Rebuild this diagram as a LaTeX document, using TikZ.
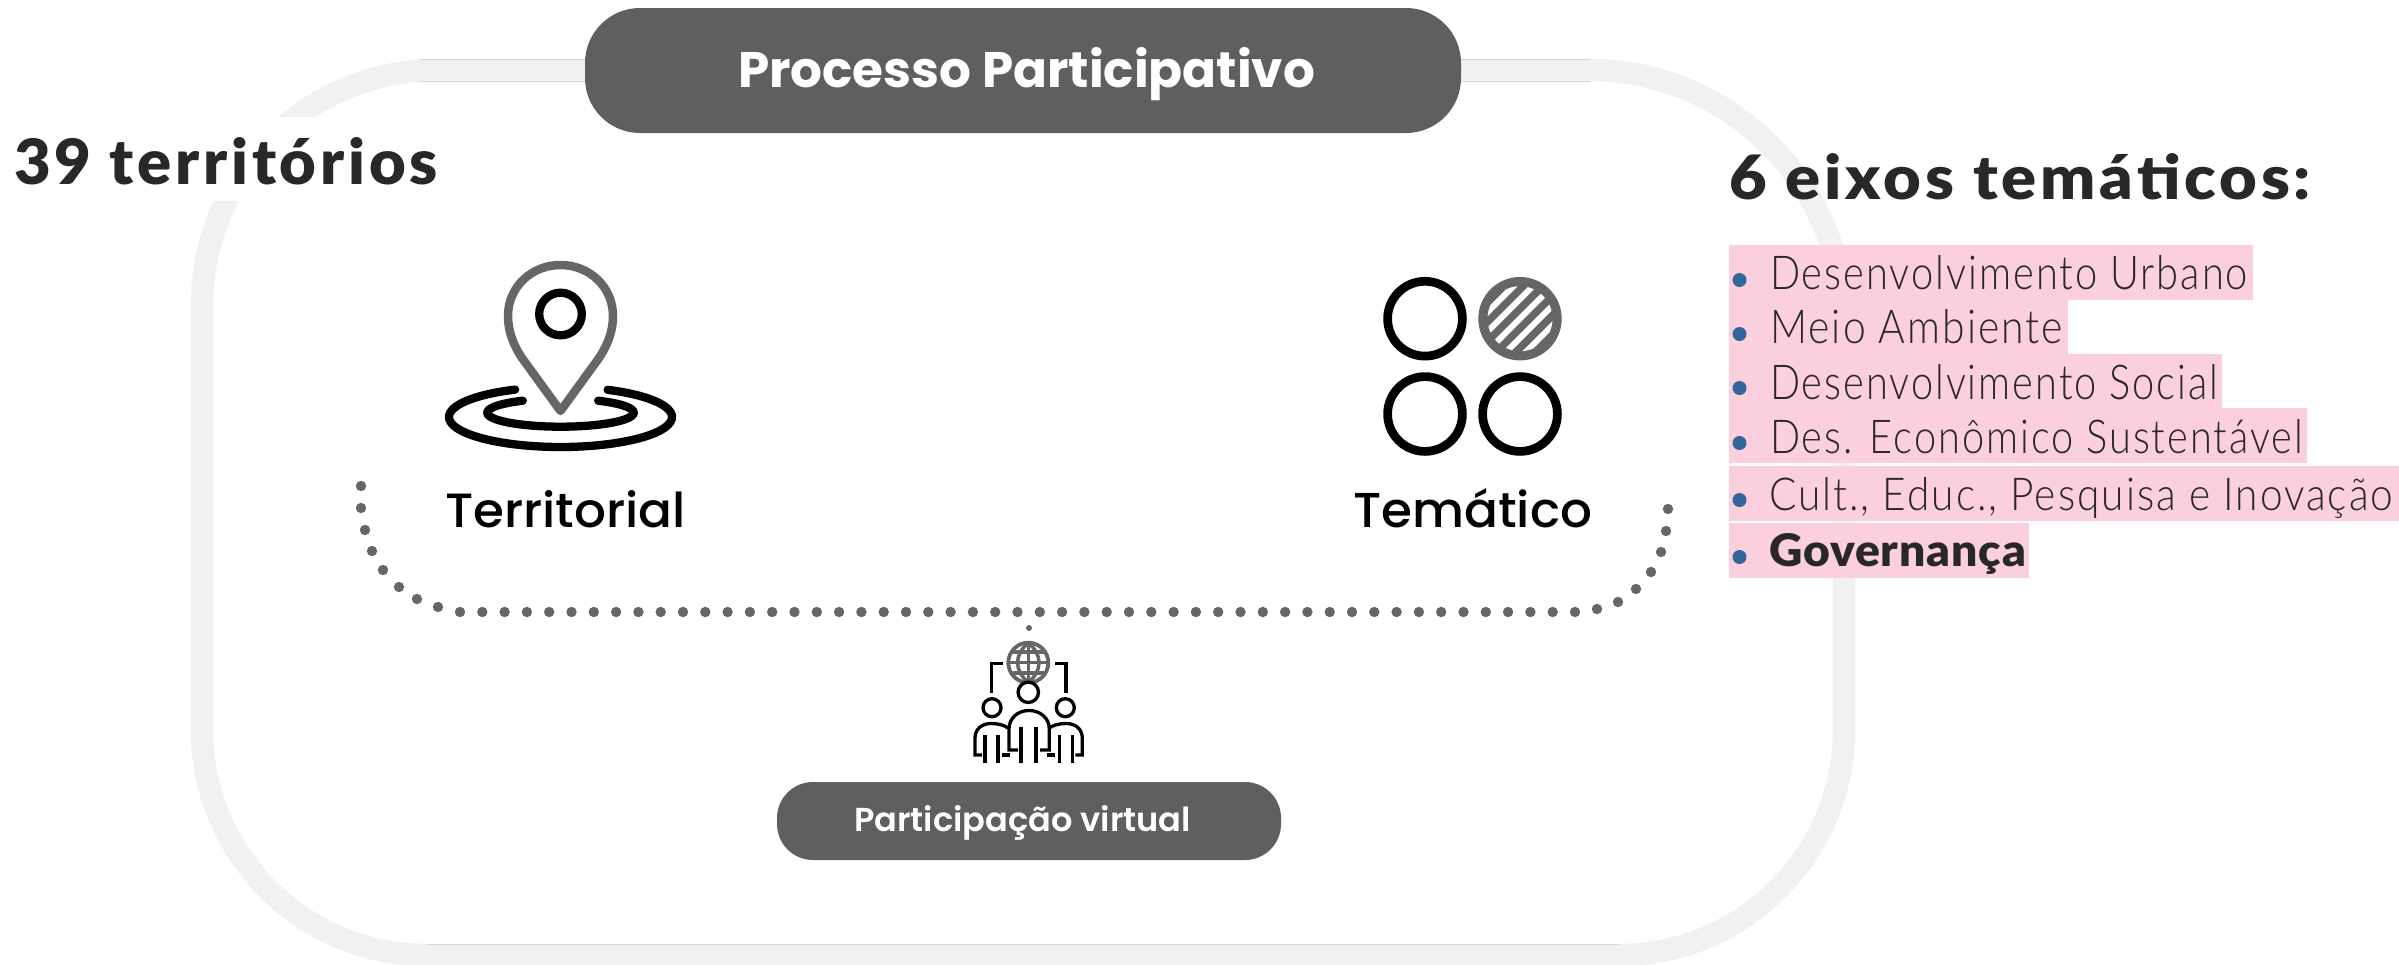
\documentclass[tikz,border=0pt]{standalone}
\usepackage{graphicx}
\usepackage{fontspec}
\setmainfont{Poppins}
\newfontfamily\popB{Poppins}[UprightFont=* Bold]
\newfontfamily\popS{Poppins}[UprightFont=* SemiBold]
\newfontfamily\popM{Poppins}[UprightFont=* Medium]
\newfontfamily\titlefont{Lato}[UprightFont=* Black,LetterSpace=6]
\newfontfamily\thinfont{Lato}[UprightFont=* Light,LetterSpace=5]
\newfontfamily\boldfont{Lato}[UprightFont=* Black,LetterSpace=2]
\definecolor{pillgray}{HTML}{5F5F5F}
\definecolor{icongray}{HTML}{666666}
\definecolor{framegray}{HTML}{F1F1F1}
\definecolor{edgegray}{HTML}{D6D6D6}
\definecolor{inkdark}{HTML}{282828}
\definecolor{rowpink}{HTML}{FBCFDD}
\definecolor{bulletblue}{HTML}{336699}
\newcommand{\fitbox}[3]{\resizebox{#1pt}{#2pt}{#3}}
\tikzset{
  txt/.style={anchor=base west,inner sep=0pt,outer sep=0pt},
  pill/.style={fill=pillgray,draw=none},
  iconblack/.style={draw=black,line width=8.3pt,line cap=round,line join=round},
  icongraystroke/.style={draw=icongray,line width=8.5pt,line cap=round,line join=round},
  person/.style={draw=black,line width=3.3pt,line cap=butt,line join=miter},
  globeline/.style={draw=icongray,line width=3.5pt},
  dotmark/.style={fill=icongray,draw=none},
  rowbg/.style={fill=rowpink,draw=none},
  bulletdot/.style={fill=bulletblue,draw=none},
}
\begin{document}
\begin{tikzpicture}[x=1pt,y=-1pt]
\useasboundingbox (0,0) rectangle (2399,964);
\clip (0,0) rectangle (2399,964);
% frame
\draw[framegray,line width=22.5pt] (437,70) -- (1589,70)
  .. controls (1729.8,70) and (1844,184.2) .. (1844,325) -- (1844,730)
  .. controls (1844,854.3) and (1743.3,955) .. (1619,955) -- (427,955)
  .. controls (302.7,955) and (202,854.3) .. (202,730) -- (202,305)
  .. controls (202,175.2) and (307.2,70) .. (437,70) -- cycle;
\draw[edgegray,line width=1pt] (420,59) -- (1590,59) (420,81) -- (1590,81) (427,944) -- (1619,944);
% white patch behind the left title
\fill[white] (0,117) rectangle (450,201);
% header
\fill[pill] (585,8) [rounded corners=55pt] rectangle (1461,133);
\node[txt,text=white] (head) at (738,87) {\fitbox{577}{40}{\popB Processo Participativo}};
\node[txt,text=inkdark] (terr39) at (14,184) {\fitbox{424}{47}{\titlefont 39 territórios}};
% pin icon
\draw[icongraystroke] (560.5,411) -- (522,358) .. controls (514,346) and (508,332) .. (508,316)
  .. controls (508,287) and (531.5,265) .. (560.5,265)
  .. controls (589.5,265) and (613,287) .. (613,316)
  .. controls (613,332) and (607,346) .. (599,358) -- cycle;
\draw[iconblack] (560.5,314) circle[radius=21.3pt];
\draw[iconblack] plot[domain=-65:246,samples=90,smooth] ({560.5+111.5*cos(\x)},{417+30*sin(\x)});
\draw[iconblack] plot[domain=-59:239,samples=90,smooth] ({560.5+73.2*cos(\x)},{412.7+14*sin(\x)});
\node[txt,text=black] (terr) at (445,527) {\fitbox{241}{37}{\popM Territorial}};
% thematic icon
\draw[iconblack,line width=8.7pt] (1425,318.7) circle[radius=37.4pt];
\draw[iconblack,line width=8.7pt] (1425,414) circle[radius=37.4pt];
\draw[iconblack,line width=8.7pt] (1520,414) circle[radius=37.4pt];
\fill[icongray] (1520,318.7) circle[radius=41.7pt];
\begin{scope}
  \clip (1520,318.7) circle[radius=32.5pt];
  \foreach \o in {-27.6,-13.8,0,13.8,27.6}
    \draw[white,line width=6pt] ({1520+0.7071*\o-50},{318.7+0.7071*\o+50}) -- ({1520+0.7071*\o+50},{318.7+0.7071*\o-50});
\end{scope}
\node[txt,text=black] (tema) at (1353,527) {\fitbox{239}{39}{\popM Temático}};
% dotted connector
\foreach \px/\py in {361/486,361/508,365/530,372/551,383/570,399/587,417/599,438/607,
  1668/509,1666/531,1661/552,1651/572,1636/589,1618/602,1597/609}
  \fill[dotmark] (\px,\py) circle[radius=5.2pt];
\foreach \i in {0,...,50}
  \fill[dotmark] ({460+22.3*\i},612) circle[radius=5.2pt];
\fill[dotmark] (1029,628) circle[radius=3pt];
% network icon
\draw[globeline,line width=3.8pt] (1028.3,662.7) circle[radius=20pt];
\draw[globeline] (1028.3,642.7) .. controls (1014,655) and (1014,670) .. (1028.3,682.7)
  .. controls (1042.6,670) and (1042.6,655) .. (1028.3,642.7);
\draw[globeline] (1028.3,643) -- (1028.3,682) (1009,662.7) -- (1048,662.7)
  (1013,652) -- (1044,652) (1013,673) -- (1044,673);
\draw[person,fill=white] (1028.3,692.3) circle[radius=10.2pt];
\draw[person] (991.7,693.3) -- (991.7,663.3) -- (1003.3,663.3);
\draw[person] (1066,693.3) -- (1066,663.3) -- (1055,663.3);
\draw[person] (1018,750) -- (1009,750) -- (1009,729) .. controls (1009,718) and (1018,710.5) .. (1029,710.5)
  .. controls (1040,710.5) and (1049.3,718) .. (1049.3,729) -- (1049.3,750) -- (1040,750);
\draw[person] (1021,727) -- (1021,763) (1036,727) -- (1036,763);
\foreach \sx/\ss in {0/1,2057.3/-1}{
\begin{scope}[xshift=\sx pt,xscale=\ss]
  \draw[person] (992,707.7) circle[radius=9pt];
  \draw[person] (982,755) -- (975,755) -- (975,738) .. controls (975,729) and (982,723.5) .. (991,723.5)
    .. controls (998,723.5) and (1004,725) .. (1008,728);
  \draw[person] (985,735) -- (985,763) (998,735) -- (998,763) (1002,755) -- (1010,755);
\end{scope}}
% bottom pill
\fill[pill] (777,782) [rounded corners=36pt] rectangle (1281,860);
\node[txt,text=white] (virt) at (854,831) {\fitbox{337}{26}{\popS Participação virtual}};
% right list
\node[txt,text=inkdark] (eixos) at (1729,199) {\fitbox{582}{46}{\titlefont 6 eixos temáticos:}};
\fill[rowbg] (1729,245) rectangle (2253,300);
\fill[rowbg] (1729,300) rectangle (2068,354);
\fill[rowbg] (1729,354) rectangle (2222,408);
\fill[rowbg] (1729,408) rectangle (2307,463);
\fill[rowbg] (1729,466) rectangle (2399,521);
\fill[rowbg] (1729,523) rectangle (2029,578);
\foreach \by in {280,334,388,443,500,557}
  \fill[bulletdot] (1739.5,\by) circle[radius=7pt];
\node[txt,text=inkdark] (r1) at (1770,289) {\fitbox{478}{34}{\thinfont Desenvolvimento Urbano}};
\node[txt,text=inkdark] (r2) at (1770,343) {\fitbox{293}{34}{\thinfont Meio Ambiente}};
\node[txt,text=inkdark] (r3) at (1770,399) {\fitbox{448}{35}{\thinfont Desenvolvimento Social}};
\node[txt,text=inkdark] (r4) at (1770,453) {\fitbox{533}{34}{\thinfont Des. Econômico Sustentável}};
\node[txt,text=inkdark] (r5) at (1769,510) {\fitbox{624}{33}{\thinfont Cult., Educ., Pesquisa e Inovação}};
\node[txt,text=inkdark] (r6) at (1769,566) {\fitbox{257}{33}{\boldfont Governança}};
\end{tikzpicture}
\end{document}
